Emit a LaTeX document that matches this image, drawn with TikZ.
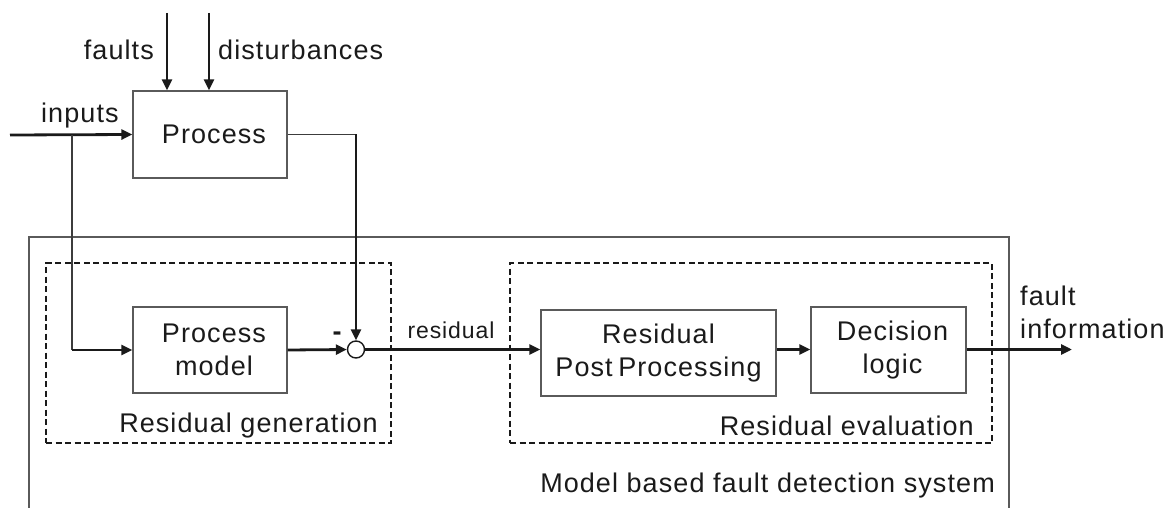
\documentclass[tikz,border=0pt]{standalone}
\usepackage{fontspec}
\setmainfont{Liberation Sans}[LetterSpace=4]
\usetikzlibrary{arrows.meta}
\definecolor{ink}{HTML}{1A1A1A}
\definecolor{frame}{HTML}{5A5A5A}
\begin{document}
\begin{tikzpicture}[x=1pt,y=-1pt,
  every node/.style={font=\fontsize{27}{33}\selectfont, text=ink},
  blockbox/.style={draw=frame, line width=1.4pt, inner sep=0pt, align=center},
  dashbox/.style={draw=ink, line width=1.9pt, dash pattern=on 6pt off 3.5pt, inner sep=0pt},
  sig/.style={draw=ink, line width=2.8pt, -{Triangle[length=11pt,width=10pt]}},
  thinline/.style={draw=ink!85, line width=1.5pt},
  lbl/.style={inner sep=0pt}]
\useasboundingbox (0,0) rectangle (1170,508);
% outer frame (open at the bottom)
\draw[draw=frame, line width=1.4pt] (29,508) -- (29,237) -- (1009,237) -- (1009,508);
% dashed group boxes
\node[dashbox, minimum width=345pt, minimum height=180pt] (gen) at (218.5,353) {};
\node[dashbox, minimum width=482pt, minimum height=180pt] (eva) at (751,353) {};
% blocks
\node[blockbox, minimum width=154pt, minimum height=87pt] (proc) at (210,134.5) {\hspace*{8pt}Process};
\node[blockbox, minimum width=154pt, minimum height=86pt] (pm) at (210,350) {\hspace*{8pt}Process\\\hspace*{8pt}model};
\node[blockbox, minimum width=235pt, minimum height=86pt] (rpp) at (658.5,353) {Residual\\Post\hspace{-3pt} Processing};
\node[blockbox, minimum width=155pt, minimum height=86pt] (dl) at (888.5,350) {\hspace*{8pt}Decision\\\hspace*{8pt}logic};
\node[draw=ink, line width=1.4pt, circle, minimum size=17pt, inner sep=0pt, fill=white] (sum) at (356,349.5) {};
% free ends
\coordinate (ftop) at (167,13);
\coordinate (dtop) at (209,13);
\coordinate (in) at (10,135);
\coordinate (br) at (72,135);
\coordinate (out) at (1072,349.5);
% connectors
\draw[sig] (ftop) -- (ftop |- proc.north);
\draw[sig] (dtop) -- (dtop |- proc.north);
\draw[sig] (in) -- (proc.west);
\draw[thinline] (br) -- (br |- pm.west);
\draw[sig] (br |- pm.west) -- (pm.west);
\draw[thinline] (proc.east) -- (proc.east -| sum.north);
\draw[sig] (proc.east -| sum.north) -- (sum.north);
\draw[sig] (pm.east) -- (sum.west);
\draw[sig] (sum.east) -- (sum.east -| rpp.west);
\draw[sig] (sum.east -| rpp.east) -- (sum.east -| dl.west);
\draw[sig] (sum.east -| dl.east) -- (out);
% labels
\node[lbl, anchor=base east] (lf) at (154,60) {faults};
\node[lbl, anchor=base west] (ld) at (218,60) {disturbances};
\node[lbl, anchor=base west] (li) at (41,123) {inputs};
\node[lbl, anchor=base, font=\bfseries\fontsize{27}{33}\selectfont] (lm) at (337,340) {-};
\node[lbl, anchor=base, font=\fontsize{23}{28}\selectfont] (lr) at (451,338) {residual};
\node[lbl, anchor=base east] (lg) at (378,432) {Residual generation};
\node[lbl, anchor=base east] (le) at (974,435) {Residual evaluation};
\node[lbl, anchor=base east] (lsys) at (995,492) {Model based fault detection system};
\node[lbl, anchor=base west] (lfi) at (1020,305) {fault};
\node[lbl, anchor=base west] (lfi2) at (1020,338) {information};
\end{tikzpicture}
\end{document}
